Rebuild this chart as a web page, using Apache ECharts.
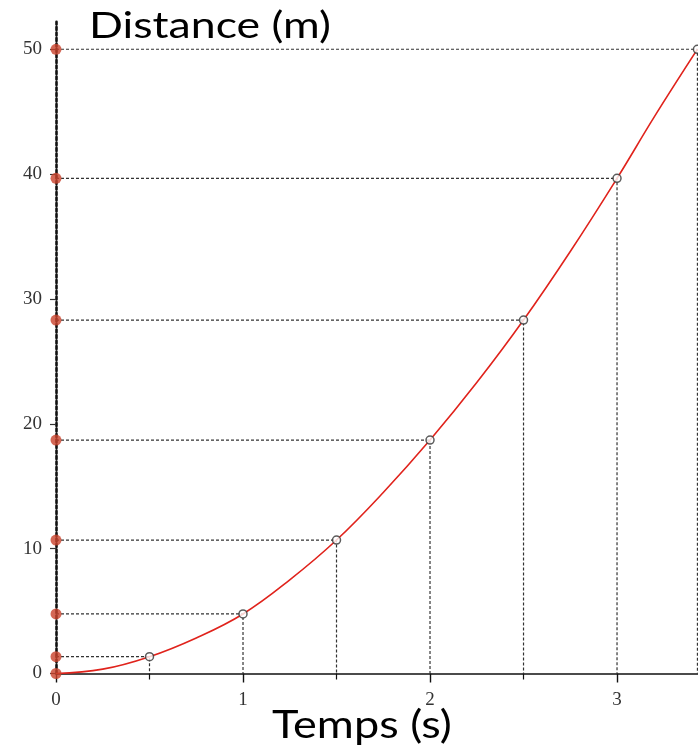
<!DOCTYPE html>
<html><head><meta charset="utf-8">
<script src="https://cdn.jsdelivr.net/npm/echarts@6/dist/echarts.min.js"></script>
<style>html,body{margin:0;padding:0;background:#fff}#c{width:698px;height:750px}</style>
</head><body><div id="c"></div>
<script>
// Marked points
const times = [0, 0.5, 1, 1.5, 2, 2.5, 3, 3.43];
const distances = [0, 1.35, 4.77, 10.69, 18.70, 28.31, 39.66, 50];
// Red curve
const curveTimes = [0, 0.25, 0.5, 0.75, 1, 1.25, 1.5, 1.75, 2, 2.25, 2.5, 2.75, 3, 3.2, 3.43];
const curveDistances = [0, 0.35, 1.35, 2.85, 4.77, 7.5, 10.69, 14.5, 18.70, 23.3, 28.31, 33.8, 39.66, 44.6, 50];
const yTickValues = [0, 10, 20, 30, 40, 50];
const xLabelValues = [0, 1, 2, 3];
const xMinorTickValues = [0.5, 1.5, 2.5];
const xLimits = [0, 3.433];
const yLimits = [0, 52.2];
const yTitle = 'Distance (m)';
const xTitle = 'Temps (s)';

const chart = echarts.init(document.getElementById('c'), null, {renderer: 'canvas'});

const pts = times.map((t, i) => [t, distances[i]]);
const curve = curveTimes.map((t, i) => [t, curveDistances[i]]);
const guideSeries = [];
for (let i = 1; i < pts.length; i++) {
  guideSeries.push({
    type: 'line', xAxisIndex: 0, yAxisIndex: 0, silent: true, symbol: 'none', z: 2,
    lineStyle: {color: '#333', width: 1.2, type: [3, 2]},
    data: [[xLimits[0], pts[i][1]], pts[i], [pts[i][0], yLimits[0]]]
  });
}

const serif = '"Liberation Serif", "DejaVu Serif", serif';
const baseX = {
  type: 'value', min: xLimits[0], max: xLimits[1], splitLine: {show: false}, position: 'bottom'
};
const baseY = {
  type: 'value', min: yLimits[0], max: yLimits[1], splitLine: {show: false}, position: 'left'
};

const option = {
  animation: false,
  backgroundColor: '#fff',
  grid: {left: 56, right: 0, top: 21.8, bottom: 76.5, containLabel: false, outerBoundsMode: 'none'},
  xAxis: [
    Object.assign({}, baseX, {
      axisLine: {show: true, onZero: false, lineStyle: {color: '#111', width: 1.6}},
      axisTick: {show: true, customValues: xLabelValues, length: 9, lineStyle: {color: '#111', width: 1.4}},
      axisLabel: {show: true, customValues: xLabelValues, margin: 17,
        fontFamily: serif, fontSize: 19, color: '#333', formatter: v => String(v)}
    }),
    Object.assign({}, baseX, {
      axisLine: {show: false},
      axisTick: {show: true, customValues: xMinorTickValues, length: 6, lineStyle: {color: '#111', width: 1.2}},
      axisLabel: {show: false}
    })
  ],
  yAxis: [
    Object.assign({}, baseY, {
      axisLine: {show: true, onZero: false, lineStyle: {color: '#111', width: 2.6, type: [3, 2.5]}},
      axisTick: {show: false},
      axisLabel: {show: false}
    }),
    Object.assign({}, baseY, {
      offset: 11,
      axisLine: {show: false},
      axisTick: {show: true, customValues: yTickValues, length: 6, lineStyle: {color: '#333', width: 1.2}},
      axisLabel: {show: true, customValues: yTickValues, margin: 3,
        fontFamily: serif, fontSize: 19, color: '#333', formatter: v => String(v)}
    })
  ],
  graphic: [
    {type: 'text', x: 89, y: 8, scaleX: 1.24, z: 100,
      style: {text: yTitle, font: '36px Lato', fill: '#000', textAlign: 'left', textVerticalAlign: 'top'}},
    {type: 'text', x: 272, y: 705, scaleX: 1.14, z: 100,
      style: {text: xTitle, font: '39.5px Lato', fill: '#000', textAlign: 'left', textVerticalAlign: 'top'}}
  ],
  series: guideSeries.concat([
    {
      type: 'line', xAxisIndex: 0, yAxisIndex: 0, data: curve, smooth: 0.4,
      symbol: 'none', lineStyle: {color: '#e0231c', width: 1.6}, z: 3, clip: true
    },
    {
      type: 'scatter', xAxisIndex: 0, yAxisIndex: 0, data: pts.slice(1), symbol: 'circle', symbolSize: 8,
      itemStyle: {color: '#fff', borderColor: '#333', borderWidth: 1.5}, z: 5, clip: false
    },
    {
      type: 'scatter', xAxisIndex: 0, yAxisIndex: 0, data: distances.map(d => [xLimits[0], d]),
      symbol: 'circle', symbolSize: 11, itemStyle: {color: '#c9412b'}, z: 6, clip: false
    }
  ])
};
chart.setOption(option);
</script>
</body></html>
